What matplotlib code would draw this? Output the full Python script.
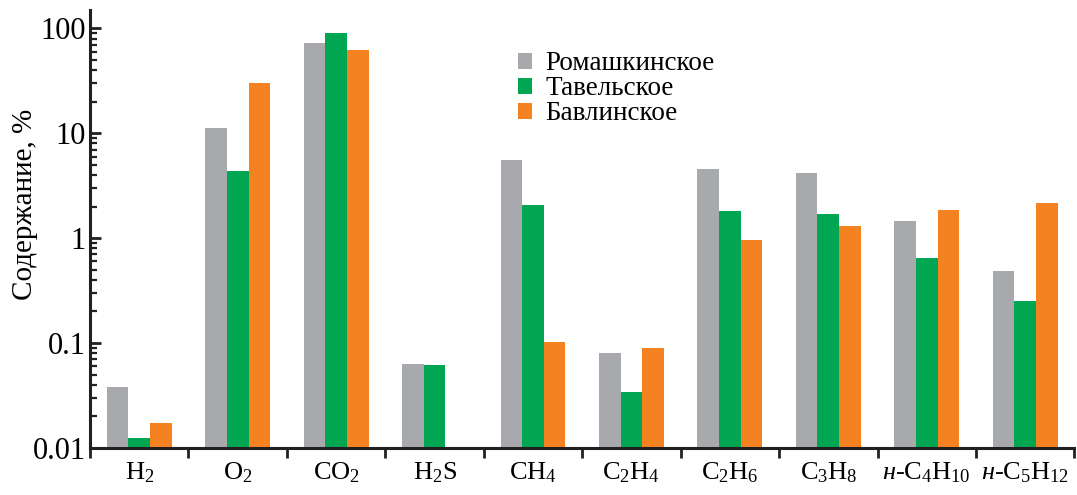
#!/usr/bin/env python3
# Gas composition by field, log-scale grouped bars

import matplotlib
matplotlib.use('Agg')
import matplotlib.pyplot as plt
import numpy as np
from matplotlib.ticker import FixedLocator, FixedFormatter, LogLocator, NullFormatter

plt.rcParams['font.family'] = ['Liberation Serif', 'DejaVu Serif']
plt.rcParams['mathtext.fontset'] = 'custom'
plt.rcParams['mathtext.rm'] = 'Liberation Serif'
plt.rcParams['mathtext.it'] = 'Liberation Serif:italic'

COMPONENTS = ['H$_2$', 'O$_2$', 'CO$_2$', 'H$_2$S', 'CH$_4$',
              'C$_2$H$_4$', 'C$_2$H$_6$', 'C$_3$H$_8$',
              '$\\mathit{н}$-C$_4$H$_{10}$', '$\\mathit{н}$-C$_5$H$_{12}$']
FIELDS = ['Ромашкинское', 'Тавельское', 'Бавлинское']

ROMASHKINO = [0.0385, 11.3, 73.3, 0.0627, 5.55, 0.0808, 4.55, 4.17, 1.46, 0.483]
TAVEL = [0.0124, 4.35, 90.0, 0.0620, 2.09, 0.034, 1.81, 1.69, 0.648, 0.250]
BAVLY = [0.0172, 30.4, 62.4, np.nan, 0.102, 0.090, 0.955, 1.31, 1.85, 2.17]

COLORS = ['#A7A9AC', '#00A651', '#F58220']
YTICKS = [0.01, 0.1, 1, 10, 100]
YTICK_LABELS = ['0.01', '0.1', '1', '10', '100']


def main():
    fig = plt.figure(figsize=(10.77, 4.95), dpi=100)
    ax = fig.add_axes([0.0836, 0.095, 0.914, 0.885])
    x = np.arange(len(COMPONENTS))
    width = 0.22
    series = [ROMASHKINO, TAVEL, BAVLY]
    for i, (vals, name, color) in enumerate(zip(series, FIELDS, COLORS)):
        ax.bar(x + (i - 1) * width, vals, width, bottom=0.0, color=color,
               label=name, edgecolor='none')

    ax.set_yscale('log')
    ax.set_ylim(0.01, 150)
    ax.set_xlim(-0.5, len(COMPONENTS) - 0.5)
    ax.yaxis.set_major_locator(FixedLocator(YTICKS))
    ax.yaxis.set_major_formatter(FixedFormatter(YTICK_LABELS))
    ax.yaxis.set_minor_locator(LogLocator(base=10, subs=np.arange(2, 10)))
    ax.yaxis.set_minor_formatter(NullFormatter())
    ax.tick_params(axis='y', which='major', direction='in', length=8,
                   width=2, labelsize=22, pad=3, color='#231F20')
    ax.tick_params(axis='y', which='minor', direction='in', length=5,
                   width=1.6, color='#231F20')

    ax.set_xticks(np.arange(len(COMPONENTS) + 1) - 0.5)
    ax.set_xticklabels([])
    ax.set_xticks(x, COMPONENTS, minor=True)
    ax.tick_params(axis='x', which='major', direction='out', length=7,
                   width=2, color='#231F20')
    ax.tick_params(axis='x', which='minor', length=0, labelsize=19, pad=9)

    for side in ['top', 'right']:
        ax.spines[side].set_visible(False)
    for side in ['left', 'bottom']:
        ax.spines[side].set_linewidth(2.2)
        ax.spines[side].set_color('#231F20')

    ax.set_ylabel('Содержание, %', fontsize=21)
    ax.yaxis.set_label_coords(-0.053, 0.555)

    ax.legend(loc='upper left', bbox_to_anchor=(0.424, 0.93), frameon=False,
              fontsize=19.5, handlelength=0.5, handleheight=0.5,
              handletextpad=0.5, labelspacing=0.0, borderaxespad=0)

    fig.savefig('out.png', dpi=100)


if __name__ == '__main__':
    main()
